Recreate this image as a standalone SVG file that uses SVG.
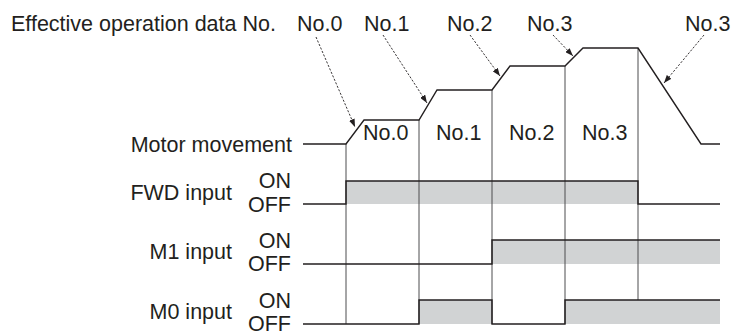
<svg xmlns="http://www.w3.org/2000/svg" width="733" height="331" viewBox="0 0 733 331">
<style>
text{font-family:"Liberation Sans",Arial,sans-serif;font-size:21.5px;fill:#231f20}
.r{text-anchor:end}
.fill{fill:#d1d3d4;stroke:none}
.grid{stroke:#4d4d4f;stroke-width:1;fill:none}
.wave{stroke:#231f20;stroke-width:1.4;fill:none;stroke-linejoin:miter}
.dash{stroke:#231f20;stroke-width:0.9;stroke-dasharray:2.2 1.6;fill:none}
</style>
<defs>
<marker id="ah" viewBox="0 0 8 6" refX="8" refY="3" markerWidth="8" markerHeight="6" markerUnits="userSpaceOnUse" orient="auto">
<path d="M0,0 L8,3 L0,6 Z" fill="#231f20"/>
</marker>
</defs>
<rect width="733" height="331" fill="#fff"/>
<g id="title"><text x="11" y="31">Effective operation data No.</text></g>
<g id="top-labels">
<text x="297" y="31">No.0</text>
<text x="364" y="31">No.1</text>
<text x="447" y="31">No.2</text>
<text x="527" y="31">No.3</text>
<text x="685" y="31">No.3</text>
</g>
<g id="fills">
<rect class="fill" x="346" y="181" width="292" height="23"/>
<rect class="fill" x="492" y="240" width="228" height="24"/>
<rect class="fill" x="419" y="300" width="73" height="24"/>
<rect class="fill" x="565" y="300" width="155" height="24"/>
</g>
<g id="grid">
<path class="grid" d="M346,144V324M419,120V324M492,90V324M565,66V324M638,48V300"/>
</g>
<g id="motor">
<text class="r" x="292" y="152">Motor movement</text>
<path class="wave" d="M303,144H346L364,120H419L437,90H492L510,66H565L583,48H638L701,144H720"/>
<text x="363" y="139.5">No.0</text>
<text x="436" y="139.5">No.1</text>
<text x="509" y="139.5">No.2</text>
<text x="582" y="139.5">No.3</text>
</g>
<g id="fwd">
<text class="r" x="232" y="200">FWD input</text>
<text class="r" x="291" y="188">ON</text>
<text class="r" x="291" y="212">OFF</text>
<path class="wave" d="M303,204H346V181H638V204H720"/>
</g>
<g id="m1">
<text class="r" x="232" y="259">M1 input</text>
<text class="r" x="291" y="247.5">ON</text>
<text class="r" x="291" y="271">OFF</text>
<path class="wave" d="M303,264H492V240H720"/>
</g>
<g id="m0">
<text class="r" x="232" y="319">M0 input</text>
<text class="r" x="291" y="307.5">ON</text>
<text class="r" x="291" y="331">OFF</text>
<path class="wave" d="M303,324H419V300H492V324H565V300H720"/>
</g>
<g id="connectors">
<path class="dash" d="M316,37L355,127" marker-end="url(#ah)"/>
<path class="dash" d="M383,35L427,103" marker-end="url(#ah)"/>
<path class="dash" d="M470,35L500,76" marker-end="url(#ah)"/>
<path class="dash" d="M553,35L573,56" marker-end="url(#ah)"/>
<path class="dash" d="M704,35L664,83" marker-end="url(#ah)"/>
</g>
</svg>
